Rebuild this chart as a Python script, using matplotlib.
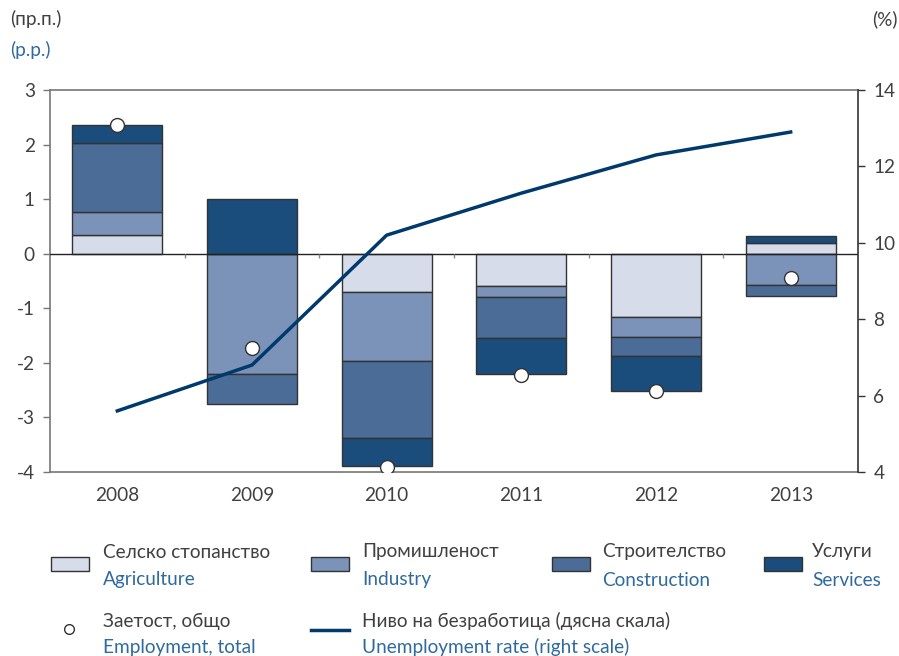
import numpy as np
import matplotlib
matplotlib.use('Agg')
import matplotlib.pyplot as plt
from matplotlib.patches import Rectangle
from matplotlib.lines import Line2D

plt.rcParams['font.family'] = ['Lato', 'DejaVu Sans']
plt.rcParams['axes.unicode_minus'] = False

years = ['2008', '2009', '2010', '2011', '2012', '2013']
agriculture = [0.34, 0.00, -0.70, -0.59, -1.16, 0.20]
industry = [0.43, -2.21, -1.27, -0.21, -0.37, -0.58]
construction = [1.25, -0.54, -1.41, -0.74, -0.35, -0.19]
services = [0.34, 1.01, -0.51, -0.67, -0.64, 0.13]
employment_total = [2.36, -1.73, -3.90, -2.22, -2.52, -0.44]
unemployment = [5.6, 6.8, 10.2, 11.3, 12.3, 12.9]

series = [agriculture, industry, construction, services]
colors = ['#d6dce9', '#7b93b8', '#4a6c96', '#1a4d7c']
bg_labels = ['Селско стопанство', 'Промишленост', 'Строителство', 'Услуги']
en_labels = ['Agriculture', 'Industry', 'Construction', 'Services']

gray_txt = '#404040'
blue_txt = '#2f6a9f'
line_col = '#003a6c'
FS = 13.7

W, H = 899, 656
fig = plt.figure(figsize=(W / 100, H / 100), dpi=100)
ax = fig.add_axes([50 / W, 1 - 472 / H, (858 - 50) / W, (472 - 90) / H])

x = np.arange(len(years))
pos_base = np.zeros(len(years))
neg_base = np.zeros(len(years))
for vals, col in zip(series, colors):
    v = np.array(vals)
    base = np.where(v >= 0, pos_base, neg_base)
    ax.bar(x, v, 0.67, bottom=base, color=col, edgecolor='#333333',
           linewidth=1, zorder=2)
    pos_base = pos_base + np.where(v > 0, v, 0)
    neg_base = neg_base + np.where(v < 0, v, 0)

ax.axhline(0, color='#222222', lw=1, zorder=3)
ax.vlines(np.arange(0.5, len(years) - 1), -0.07, 0, color='#888888', lw=1, zorder=3)

ax.set_xlim(-0.5, len(years) - 0.5)
ax.set_ylim(-4, 3)
ax.set_yticks(range(-4, 4))
ax.set_xticks(x)
ax.set_xticklabels(years)
ax.tick_params(axis='x', length=0, pad=11, labelsize=FS, labelcolor=gray_txt)
ax.tick_params(axis='y', length=5, width=1, color='#777777', pad=6,
               labelsize=FS, labelcolor=gray_txt)
for s in ['left', 'top', 'bottom']:
    ax.spines[s].set_color('#777777')
    ax.spines[s].set_linewidth(1.2)
ax.spines['right'].set_visible(False)

ax2 = ax.twinx()
ax2.plot(x, unemployment, color=line_col, lw=2.5, zorder=5)
ax2.set_ylim(4, 14)
ax2.set_yticks(range(4, 15, 2))
ax2.tick_params(axis='y', length=5, width=1, color='#333333', pad=6,
                labelsize=FS, labelcolor=gray_txt)
for s in ['left', 'top', 'bottom']:
    ax2.spines[s].set_visible(False)
ax2.spines['right'].set_color('#333333')
ax2.spines['right'].set_linewidth(1.2)

# employment dots drawn on top of the line, in left-axis units
ax2.plot(x, employment_total, 'o', ms=10, mfc='white', mec='#333333', mew=1,
         zorder=6, transform=ax.transData)

# unit labels
fig.text(10 / W, 1 - 19 / H, '(пр.п.)', color=gray_txt, fontsize=FS, va='center')
fig.text(10 / W, 1 - 50 / H, '(p.p.)', color=blue_txt, fontsize=FS, va='center')
fig.text(872 / W, 1 - 19 / H, '(%)', color=gray_txt, fontsize=FS, va='center')

# legend
def fx(px):
    return px / W

def fy(py):
    return 1 - py / H

box_x = [51, 311, 552, 764]
txt_x = [103, 362, 602, 812]
for bx, tx, col, bl, el in zip(box_x, txt_x, colors, bg_labels, en_labels):
    fig.add_artist(Rectangle((fx(bx), fy(571)), 38 / W, 14 / H,
                             transform=fig.transFigure, facecolor=col,
                             edgecolor='#333333', lw=1))
    fig.text(fx(tx), fy(552), bl, color=gray_txt, fontsize=FS, va='center')
    fig.text(fx(tx), fy(580), el, color=blue_txt, fontsize=FS, va='center')

fig.add_artist(Line2D([fx(69)], [fy(629)], marker='o', ms=7, mfc='white',
                      mec='#333333', mew=1, transform=fig.transFigure))
fig.text(fx(103), fy(621), 'Заетост, общо', color=gray_txt, fontsize=FS, va='center')
fig.text(fx(103), fy(647), 'Employment, total', color=blue_txt, fontsize=FS, va='center')
fig.add_artist(Line2D([fx(311), fx(349)], [fy(630), fy(630)], color=line_col,
                      lw=2.5, transform=fig.transFigure))
fig.text(fx(362), fy(621), 'Ниво на безработица (дясна скала)', color=gray_txt,
         fontsize=FS, va='center')
fig.text(fx(362), fy(647), 'Unemployment rate (right scale)', color=blue_txt,
         fontsize=FS, va='center')

fig.savefig('out.png', dpi=100)
